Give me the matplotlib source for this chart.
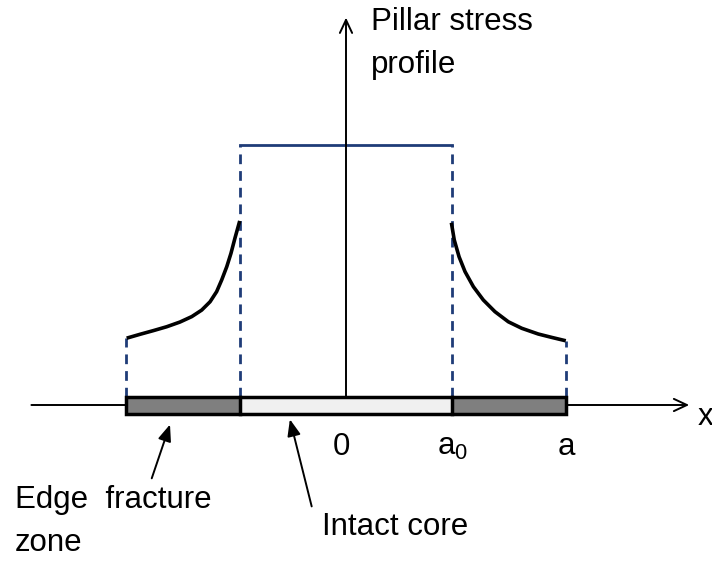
import matplotlib.pyplot as plt

plt.rcParams["font.family"] = ["Liberation Sans", "DejaVu Sans"]
plt.rcParams["mathtext.fontset"] = "custom"
plt.rcParams["mathtext.rm"] = "Liberation Sans"
plt.rcParams["mathtext.default"] = "regular"

# geometry in normalised units: x / a, stress / core stress
a = 1.0
a0 = 0.482
core_stress = 1.0

# edge zone stress curves
left_x = [-0.997, -0.936, -0.876, -0.815, -0.755, -0.701, -0.656, -0.618,
          -0.588, -0.565, -0.542, -0.523, -0.505, -0.483]
left_s = [0.257, 0.272, 0.286, 0.301, 0.319, 0.340, 0.365, 0.397,
          0.436, 0.481, 0.532, 0.583, 0.641, 0.708]
right_x = [0.479, 0.492, 0.514, 0.541, 0.579, 0.624, 0.677, 0.738,
           0.799, 0.874, 0.935, 0.999]
right_s = [0.701, 0.635, 0.570, 0.513, 0.455, 0.404, 0.359, 0.320,
           0.295, 0.273, 0.260, 0.247]

tick_pos = [0.0, a0, a]
tick_txt = ["0", "a$_{0}$", "a"]

navy = "#1f3c78"

fig = plt.figure(figsize=(7.12, 5.63), dpi=100)
ax = fig.add_axes([0, 0, 1, 1])
ax.set_xlim(-346 / 220, 366 / 220)
ax.set_ylim(-158 / 260, 405 / 260)
ax.axis("off")

bar_h = 0.065
bar_y = -0.035

# x axis and y axis
arrow = dict(arrowstyle="->,head_length=0.47,head_width=0.22", lw=1.4,
             color="black", mutation_scale=20, shrinkA=0, shrinkB=0)
ax.annotate("", xy=(1.56, 0), xytext=(-1.43, 0), arrowprops=arrow)
ax.annotate("", xy=(0, 1.49), xytext=(0, 0.03), arrowprops=arrow)

# pillar bar: fractured edges and intact core
ax.fill_between([-a, -a0], bar_y, bar_y + bar_h, color="#7f7f7f", zorder=3)
ax.fill_between([a0, a], bar_y, bar_y + bar_h, color="#7f7f7f", zorder=3)
ax.fill_between([-a0, a0], bar_y, bar_y + bar_h, color="#f0f0f0", zorder=3)
ax.add_patch(plt.Rectangle((-a, bar_y), 2 * a, bar_h, fill=False,
                           ec="black", lw=2.5, zorder=4))
ax.plot([-a0, -a0], [bar_y, bar_y + bar_h], color="black", lw=2.5, zorder=4)
ax.plot([a0, a0], [bar_y, bar_y + bar_h], color="black", lw=2.5, zorder=4)

# core stress level and dashed guides
ax.plot([-a0, a0], [core_stress, core_stress], color=navy, lw=2)
dash = dict(color=navy, lw=2, dashes=(3.5, 2.5))
for xv in (-a0, a0):
    ax.plot([xv, xv], [bar_y + bar_h, core_stress], **dash)
ax.plot([-a, -a], [bar_y + bar_h, left_s[0]], **dash)
ax.plot([a, a], [bar_y + bar_h, right_s[-1]], **dash)

# edge stress curves
ax.plot(left_x, left_s, color="black", lw=2.6, solid_capstyle="butt",
        solid_joinstyle="round", zorder=5)
ax.plot(right_x, right_s, color="black", lw=2.6, solid_capstyle="butt",
        solid_joinstyle="round", zorder=5)

fs = 22.5
for xv, t in zip(tick_pos, tick_txt):
    ax.text(xv - 0.02 if t == "0" else xv, -0.16, t, fontsize=fs,
            ha="center", va="center")
ax.text(1.635, -0.045, "x", fontsize=fs, ha="center", va="center")

ax.text(0.113, 1.39, "Pillar stress\nprofile", fontsize=fs, ha="left",
        va="center", linespacing=1.55)

ax.text(-1.505, -0.447, "Edge  fracture\nzone", fontsize=fs, ha="left",
        va="center", linespacing=1.55)
ax.text(-0.11, -0.47, "Intact core", fontsize=fs, ha="left", va="center")

pointer = dict(arrowstyle="-|>,head_length=0.5,head_width=0.2", lw=1.4,
               color="black", mutation_scale=20, shrinkA=0, shrinkB=0)
ax.annotate("", xy=(-0.8, -0.075), xytext=(-0.883, -0.282), arrowprops=pointer)
ax.annotate("", xy=(-0.255, -0.055), xytext=(-0.156, -0.39), arrowprops=pointer)

fig.savefig("out.png", dpi=100)
